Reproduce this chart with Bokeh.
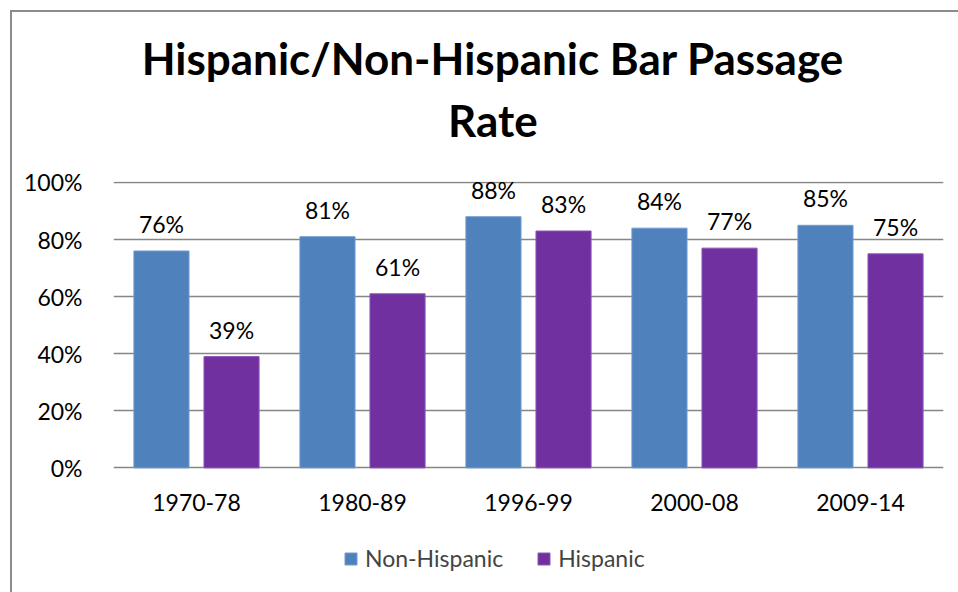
from bokeh.plotting import figure
from bokeh.models import (ColumnDataSource, FactorRange, Range1d, LabelSet, Legend, LegendItem,
                          NumeralTickFormatter, FixedTicker, LinearAxis, Grid)
from bokeh.core.properties import value
from bokeh.transform import dodge
from bokeh.embed import file_html
from bokeh.resources import INLINE

periods = ["1970-78", "1980-89", "1996-99", "2000-08", "2009-14"]
non_hispanic = [0.76, 0.81, 0.88, 0.84, 0.85]
hispanic = [0.39, 0.61, 0.83, 0.77, 0.75]
y_ticks = [0, 0.2, 0.4, 0.6, 0.8, 1.0]
title_lines = ["Hispanic/Non-Hispanic Bar Passage", "Rate"]
series_names = ["Non-Hispanic", "Hispanic"]

BLUE = "#4F81BD"
PURPLE = "#7030A0"
GRID = "#868686"
FONT = "Lato"
FS = "23px"

src = ColumnDataSource(dict(
    period=periods,
    nh=non_hispanic,
    h=hispanic,
    nh_lbl=[f"{round(v*100)}%" for v in non_hispanic],
    h_lbl=[f"{round(v*100)}%" for v in hispanic],
))

# the plotting frame reaches down to the bottom of the chart box so that the
# category labels and the legend (drawn inside it) are not clipped
p = figure(
    x_range=FactorRange(*periods, range_padding=0),
    y_range=Range1d(-0.4437, 1.0035),
    x_axis_location=None,
    width=946, height=580,
    output_backend="svg", toolbar_location=None,
    min_border_left=101, min_border_right=17,
    min_border_top=169, min_border_bottom=0,
    margin=(10, 0, 0, 10),
    styles={"border-left": "2px solid #8c8c8c", "border-top": "2px solid #8c8c8c", "box-sizing": "content-box"},
)
p.outline_line_color = None
p.background_fill_color = "white"
p.border_fill_color = "white"

r1 = p.vbar(x=dodge("period", -0.211, range=p.x_range), top="nh", width=0.332, source=src,
            fill_color=BLUE, line_color="#6f9bd0", line_width=1)
r2 = p.vbar(x=dodge("period", 0.211, range=p.x_range), top="h", width=0.332, source=src,
            fill_color=PURPLE, line_color="#8d55b8", line_width=1)

# value labels above the bars
for col, lbl, off in [("nh", "nh_lbl", -0.211), ("h", "h_lbl", 0.211)]:
    p.add_layout(LabelSet(x=dodge("period", off, range=p.x_range), y=col, text=lbl, source=src,
                          text_align="center", text_baseline="alphabetic", y_offset=18,
                          text_font=value(FONT), text_font_size=FS, text_color="black"))

# category labels under the 0% line
p.add_layout(LabelSet(x="period", y=0, text="period", source=src,
                      text_align="center", text_baseline="alphabetic", y_offset=-43,
                      text_font=value(FONT), text_font_size=FS, text_color="black"))

# y axis
p.yaxis.ticker = FixedTicker(ticks=y_ticks, minor_ticks=[])
p.yaxis.formatter = NumeralTickFormatter(format="0%")
p.yaxis.axis_line_color = None
p.yaxis.major_tick_line_color = None
p.yaxis.minor_tick_line_color = None
p.yaxis.major_label_standoff = 25
p.yaxis.major_label_text_font = FONT
p.yaxis.major_label_text_font_size = FS
p.yaxis.major_label_text_color = "black"

# grids: horizontal lines only
for g in p.select(type=Grid):
    if g.dimension == 0:
        g.grid_line_color = None
        g.visible = False
p.ygrid.ticker = FixedTicker(ticks=y_ticks, minor_ticks=[])
p.ygrid.grid_line_color = GRID
p.ygrid.grid_line_width = 1.3

# chart title: two centred lines above the plot (centred on the whole chart box,
# given in the category axis' synthetic units 0..5)
TITLE_X = 2.2856
for txt, standoff in [(title_lines[1], 36), (title_lines[0], 7)]:
    ax = LinearAxis(ticker=FixedTicker(ticks=[TITLE_X], minor_ticks=[]),
                    major_label_overrides={TITLE_X: txt},
                    axis_line_color=None, major_tick_line_color=None, minor_tick_line_color=None,
                    major_tick_out=0, major_tick_in=0, minor_tick_out=0, minor_tick_in=0,
                    major_label_standoff=standoff, major_label_text_font=FONT,
                    major_label_text_font_style="bold", major_label_text_font_size="44px",
                    major_label_text_color="black")
    p.add_layout(ax, "above")

legend = Legend(items=[LegendItem(label=series_names[0], renderers=[r1]),
                       LegendItem(label=series_names[1], renderers=[r2])],
                orientation="horizontal", location=(230, 22),
                label_text_font=FONT, label_text_font_size=FS,
                glyph_width=15, glyph_height=15, label_standoff=7, spacing=33,
                padding=0, margin=0, border_line_color=None, background_fill_alpha=0)
p.add_layout(legend, "center")

open("out.html", "w").write(file_html(p, INLINE))
